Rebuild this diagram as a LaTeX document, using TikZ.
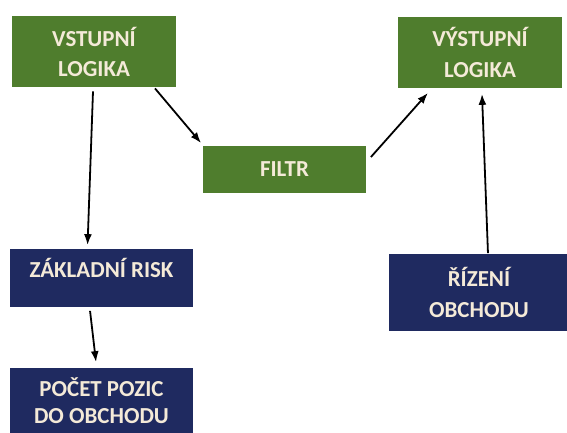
\documentclass[tikz,border=0pt]{standalone}
\usepackage{fontspec}
\setmainfont{Carlito}
\usetikzlibrary{arrows.meta,positioning,calc}
\definecolor{boxgreen}{HTML}{4F7D2D}
\definecolor{boxnavy}{HTML}{1F2A60}
\definecolor{boxtext}{HTML}{F4EAD8}
\begin{document}
\begin{tikzpicture}[x=1bp,y=-1bp,font=\bfseries\fontsize{23}{31}\selectfont,
  box/.style={align=center,text=boxtext,inner sep=0pt},
  gbox/.style={box,fill=boxgreen},nbox/.style={box,fill=boxnavy},
  >={Latex[length=11pt,width=8pt]},line width=1.8pt]
\useasboundingbox (0,0) rectangle (567,433);
\node[gbox,minimum width=164bp,minimum height=71bp] (vin) at (94,52) {VSTUPNÍ\\LOGIKA};
\node[gbox,minimum width=164bp,minimum height=71bp] (vout) at (480,52.5) {VÝSTUPNÍ\\LOGIKA};
\node[gbox,minimum width=163bp,minimum height=47bp] (filtr) at (284.5,169.5) {FILTR};
\node[nbox,minimum width=183bp,minimum height=58bp,text height=15pt,text depth=15pt] (risk) at (101.5,278) {ZÁKLADNÍ RISK};
\node[nbox,minimum width=180bp,minimum height=77bp] (rizeni) at (479,292.5) {ŘÍZENÍ\\OBCHODU};
\node[nbox,minimum width=183bp,minimum height=66bp,font=\bfseries\fontsize{23}{27}\selectfont] (pocet) at (101.5,401) {POČET POZIC\\DO OBCHODU};
\draw[->] ([xshift=-1pt,yshift=-3pt]vin.south) -- ([xshift=-14pt,yshift=3pt]risk.north);
\draw[->] ([xshift=-11.5pt,yshift=-3pt]risk.south) -- ([xshift=-5.5pt,yshift=5pt]pocet.north);
\draw[->] ([xshift=-22pt]vin.south east) -- ([xshift=-1pt,yshift=2pt]filtr.north west);
\draw[->] ([xshift=4pt,yshift=-12pt]filtr.north east) -- ([xshift=31pt,yshift=-4pt]vout.south west);
\draw[->] ([xshift=9pt]rizeni.north) -- ([xshift=2pt,yshift=-5pt]vout.south);
\end{tikzpicture}
\end{document}
